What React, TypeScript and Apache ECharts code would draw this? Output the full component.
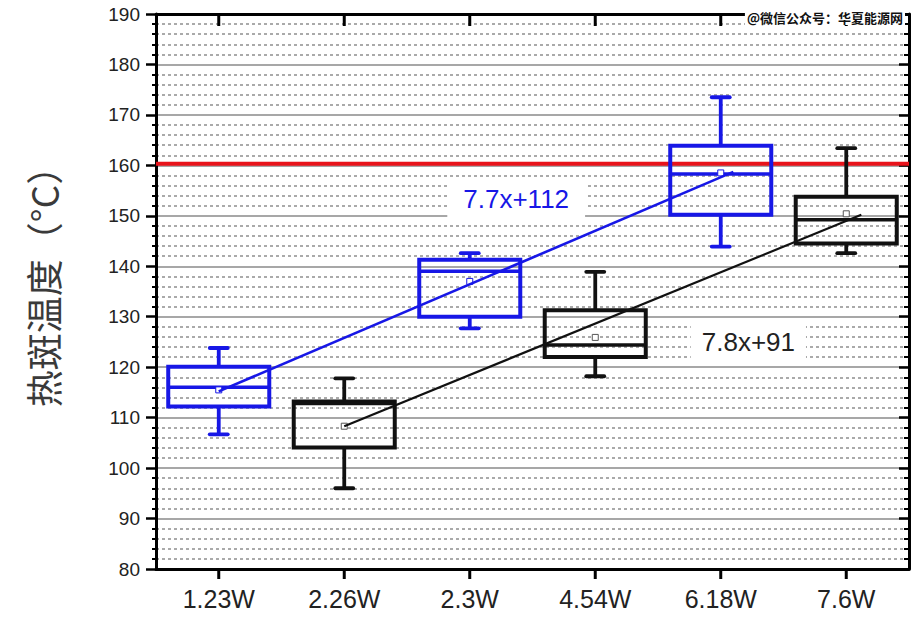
import React, { useEffect, useRef } from 'react';
import * as echarts from 'echarts';

// ---- data ----
const categories = ['1.23W', '2.26W', '2.3W', '4.54W', '6.18W', '7.6W'];
const whiskerLow = [106.7, 96.0, 127.7, 118.2, 143.9, 142.6];
const q1 = [112.2, 104.1, 130.0, 122.0, 150.2, 144.5];
const median = [116.0, 112.8, 139.0, 124.4, 158.3, 149.2];
const q3 = [120.1, 113.2, 141.3, 131.3, 163.9, 153.8];
const whiskerHigh = [123.8, 117.8, 142.6, 138.9, 173.5, 163.4];
const mean = [115.5, 108.3, 137.0, 125.9, 158.5, 150.4];
const group = [0, 1, 0, 1, 0, 1]; // 0 = blue set, 1 = black set

const blueFit = [[0, 115.2], [4.1, 158.7]];
const blackFit = [[1.0, 108.3], [5.12, 150.2]];
const blueEq = '7.7x+112';
const blackEq = '7.8x+91';
const blueEqAt = [2.37, 153.3];
const blackEqAt = [4.22, 125.05];
const redLimit = 160.3;
const yMin = 80;
const yMax = 190;
const yStep = 10;
const yName = '热斑温度（°C）';
const watermark = '@微信公众号：华夏能源网';

// ---- styles ----
const BLUE = '#1717e6';
const BLACK = '#111111';
const groupColor = [BLUE, BLACK];
const FONT = '"Liberation Sans", Arial, sans-serif';

export default function App() {
  const ref = useRef<HTMLDivElement>(null);

  useEffect(() => {
    if (!ref.current) return;
    const chart = echarts.init(ref.current, null, { renderer: 'svg' });

    const boxData = categories.map((_, i) => [
      i, whiskerLow[i], q1[i], median[i], q3[i], whiskerHigh[i], mean[i], group[i],
    ]);

    const renderItem = (params: any, api: any) => {
      const i = api.value(0);
      const color = groupColor[api.value(7)];
      const pLow = api.coord([i, api.value(1)]);
      const pQ1 = api.coord([i, api.value(2)]);
      const pMed = api.coord([i, api.value(3)]);
      const pQ3 = api.coord([i, api.value(4)]);
      const pHigh = api.coord([i, api.value(5)]);
      const pMean = api.coord([i, api.value(6)]);
      const x = pMed[0];
      const cs = params.coordSys;
      const top = cs.y;
      const bottom = cs.y + cs.height;
      const bw = api.size([1, 0])[0] * 0.805;
      const cap = 9;
      const lw = 3.8;
      const ls = { stroke: color, lineWidth: lw, fill: 'none' };
      const tickStyle = { stroke: '#000', lineWidth: 3 };
      return {
        type: 'group',
        children: [
          // category ticks on the top (inward) and bottom (outward) frame
          { type: 'line', shape: { x1: x, y1: top, x2: x, y2: top + 12 }, style: tickStyle },
          { type: 'line', shape: { x1: x, y1: bottom, x2: x, y2: bottom + 10 }, style: tickStyle },
          { type: 'line', shape: { x1: x, y1: pHigh[1], x2: x, y2: pQ3[1] }, style: ls },
          { type: 'line', shape: { x1: x, y1: pQ1[1], x2: x, y2: pLow[1] }, style: ls },
          { type: 'line', shape: { x1: x - cap, y1: pHigh[1], x2: x + cap, y2: pHigh[1] }, style: { ...ls, lineCap: 'round' } },
          { type: 'line', shape: { x1: x - cap, y1: pLow[1], x2: x + cap, y2: pLow[1] }, style: { ...ls, lineCap: 'round' } },
          { type: 'rect', shape: { x: x - bw / 2, y: pQ3[1], width: bw, height: pQ1[1] - pQ3[1] }, style: { stroke: color, lineWidth: 4, fill: 'none' } },
          { type: 'line', shape: { x1: x - bw / 2, y1: pMed[1], x2: x + bw / 2, y2: pMed[1] }, style: { stroke: color, lineWidth: 3.5 } },
          { type: 'rect', shape: { x: x - 3, y: pMean[1] - 3, width: 6, height: 6 }, style: { stroke: api.value(7) === 1 ? '#555' : color, lineWidth: 1, fill: '#fff' } },
        ],
      };
    };

    const eqLabel = (text: string, color: string, padding: number[]) => ({
      show: true,
      position: 'inside',
      formatter: text,
      fontSize: 26,
      fontFamily: FONT,
      color,
      opacity: 1,
      backgroundColor: '#fff',
      padding,
    });

    const option: any = {
      animation: false,
      backgroundColor: '#ffffff',
      grid: { left: 156, right: 12, top: 14, bottom: 51, containLabel: false },
      graphic: [
        {
          type: 'text',
          right: 16,
          top: 10,
          z: 100,
          style: {
            text: watermark,
            fontSize: 13,
            fontWeight: 'bold',
            fontFamily: '"Noto Sans CJK SC", sans-serif',
            fill: '#111',
            backgroundColor: '#fff',
            padding: [1, 2],
          },
        },
      ],
      xAxis: [
        {
          type: 'category',
          data: categories,
          position: 'bottom',
          boundaryGap: true,
          axisLine: { onZero: false, lineStyle: { color: '#000', width: 3 } },
          axisTick: { show: false },
          axisLabel: { fontSize: 25, color: '#222', fontFamily: FONT, margin: 17, interval: 0 },
          splitLine: { show: false },
        },
        {
          type: 'category',
          data: categories,
          position: 'top',
          boundaryGap: true,
          axisLine: { onZero: false, lineStyle: { color: '#000', width: 3 } },
          axisTick: { show: false },
          axisLabel: { show: false },
          splitLine: { show: false },
        },
        {
          type: 'value',
          min: -0.5,
          max: 5.5,
          show: false,
          axisLine: { onZero: false },
          splitLine: { show: false },
        },
      ],
      yAxis: [
        {
          type: 'value',
          min: yMin,
          max: yMax,
          interval: yStep,
          position: 'left',
          name: yName,
          nameLocation: 'middle',
          nameRotate: 90,
          nameGap: 95,
          nameTextStyle: {
            fontSize: 37,
            color: '#3a3a3a',
            fontFamily: '"Noto Sans CJK SC", sans-serif',
            padding: [0, 0, 0, 28],
          },
          axisLine: { show: true, onZero: false, lineStyle: { color: '#000', width: 3 } },
          axisTick: { show: true, length: 10, lineStyle: { color: '#000', width: 2.5 } },
          minorTick: { show: true, splitNumber: 5, length: 4, lineStyle: { color: '#000', width: 2 } },
          axisLabel: { fontSize: 19, color: '#222', fontFamily: FONT, margin: 16 },
          splitLine: { show: true, lineStyle: { color: '#8a8a8a', width: 1.6 } },
          minorSplitLine: { show: true, lineStyle: { color: '#8e8e8e', width: 1.5, type: [3, 3] } },
        },
        {
          type: 'value',
          min: yMin,
          max: yMax,
          interval: yStep,
          position: 'right',
          axisLine: { show: true, onZero: false, lineStyle: { color: '#000', width: 3 } },
          axisTick: { show: true, inside: true, length: 10, lineStyle: { color: '#000', width: 2.5 } },
          minorTick: { show: true, splitNumber: 5, length: 5, lineStyle: { color: '#000', width: 2 } },
          axisLabel: { show: false },
          splitLine: { show: false },
        },
      ],
      series: [
        {
          type: 'line',
          name: 'limit',
          xAxisIndex: 2,
          yAxisIndex: 0,
          z: 2,
          symbol: 'none',
          silent: true,
          data: [[-0.5, redLimit], [5.5, redLimit]],
          lineStyle: { color: '#e8131b', width: 4 },
        },
        {
          type: 'custom',
          name: 'boxes',
          xAxisIndex: 0,
          yAxisIndex: 0,
          z: 3,
          clip: false,
          renderItem,
          encode: { x: 0, y: [1, 2, 3, 4, 5] },
          data: boxData,
        },
        {
          type: 'line',
          name: 'blueFit',
          xAxisIndex: 2,
          yAxisIndex: 0,
          z: 4,
          symbol: 'none',
          data: blueFit,
          lineStyle: { color: BLUE, width: 2.6 },
        },
        {
          type: 'line',
          name: 'blackFit',
          xAxisIndex: 2,
          yAxisIndex: 0,
          z: 4,
          symbol: 'none',
          data: blackFit,
          lineStyle: { color: BLACK, width: 2.2 },
        },
        {
          type: 'scatter',
          name: 'eqBlue',
          xAxisIndex: 2,
          yAxisIndex: 0,
          z: 5,
          symbolSize: 1,
          itemStyle: { color: 'rgba(0,0,0,0)', opacity: 1 },
          data: [blueEqAt],
          label: eqLabel(blueEq, BLUE, [8, 16]),
        },
        {
          type: 'scatter',
          name: 'eqBlack',
          xAxisIndex: 2,
          yAxisIndex: 0,
          z: 5,
          symbolSize: 1,
          itemStyle: { color: 'rgba(0,0,0,0)', opacity: 1 },
          data: [blackEqAt],
          label: eqLabel(blackEq, '#222', [9, 11]),
        },
      ],
    };

    chart.setOption(option);
    return () => chart.dispose();
  }, []);

  return (
    <div
      ref={ref}
      style={{ position: 'fixed', left: 0, top: 0, width: 921, height: 620, background: '#fff' }}
    />
  );
}
